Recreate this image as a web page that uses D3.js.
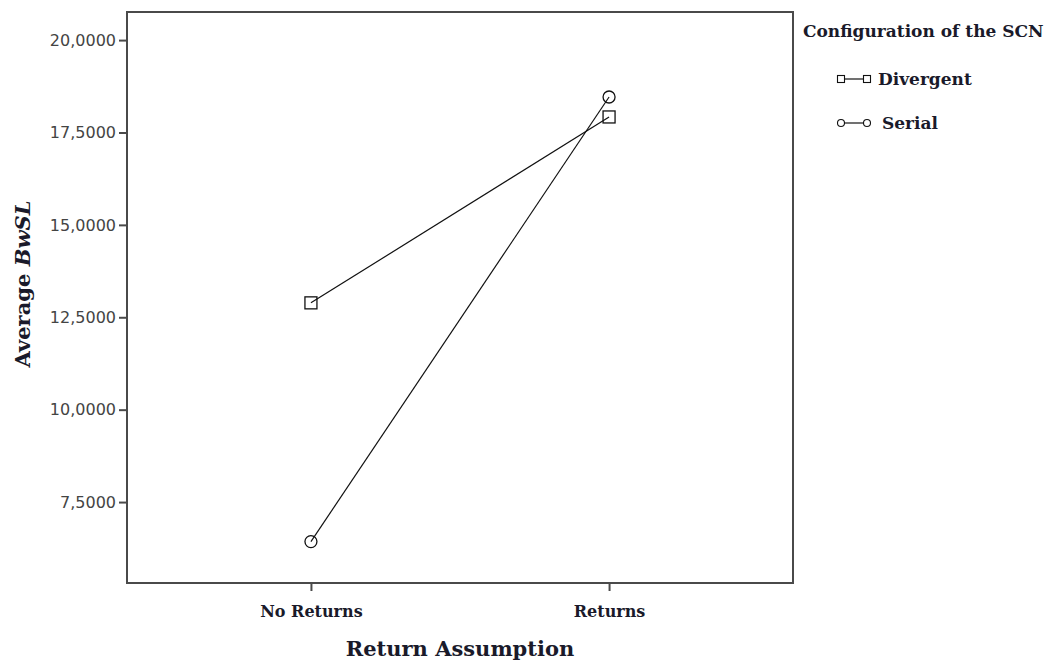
<!DOCTYPE html>
<html>
<head>
<meta charset="utf-8">
<script src="https://cdn.jsdelivr.net/npm/d3@7"></script>
<style>
  html, body { margin: 0; padding: 0; background: #fff; }
  svg { display: block; }
</style>
</head>
<body>
<svg id="chart" width="1048" height="661"></svg>
<script>
// Average BwSL by return assumption, one line per SCN configuration
const categories = ["No Returns", "Returns"];
const divergent = [12.89, 17.92];
const serial = [6.43, 18.46];
const yTicks = [7.5, 10, 12.5, 15, 17.5, 20];
const seriesNames = ["Divergent", "Serial"];

const svg = d3.select("#chart");
const margin = { left: 127, right: 255, top: 12, bottom: 78 };
const W = 1048, H = 661;
const x0 = margin.left, x1 = W - margin.right, y0 = margin.top, y1 = H - margin.bottom;

const x = d3.scalePoint().domain(categories).range([x0, x1]).padding(0.617);
const y = d3.scaleLinear().domain([5.31, 20.76]).range([y1, y0]);

const serif = "'DejaVu Serif', 'Liberation Serif', serif";
const sans = "'DejaVu Sans', 'Liberation Sans', sans-serif";
const textCol = "#1a1a2a";

// plot frame
svg.append("rect")
  .attr("x", x0).attr("y", y0)
  .attr("width", x1 - x0).attr("height", y1 - y0)
  .attr("fill", "none").attr("stroke", "#4a4a4a").attr("stroke-width", 2);

// y axis
const fmt = d => d.toFixed(4).replace(".", ",");
const yAxis = svg.append("g").attr("transform", `translate(${x0},0)`)
  .call(d3.axisLeft(y).tickValues(yTicks).tickFormat(fmt).tickSize(8).tickPadding(3));
yAxis.select(".domain").remove();
yAxis.selectAll(".tick line").attr("stroke", "#4a4a4a").attr("stroke-width", 2);
yAxis.selectAll(".tick text")
  .attr("fill", "#444").style("font-family", sans).style("font-size", "16px");

// x axis
const xAxis = svg.append("g").attr("transform", `translate(0,${y1})`)
  .call(d3.axisBottom(x).tickSize(8).tickPadding(15));
xAxis.select(".domain").remove();
xAxis.selectAll(".tick line").attr("stroke", "#4a4a4a").attr("stroke-width", 2);
xAxis.selectAll(".tick text")
  .attr("fill", textCol).style("font-family", serif).style("font-size", "16px").style("font-weight", "bold");

// axis titles
svg.append("text")
  .attr("x", 460).attr("y", 656)
  .attr("text-anchor", "middle")
  .attr("fill", textCol)
  .style("font-family", serif).style("font-size", "21px").style("font-weight", "bold")
  .text("Return Assumption");

const yt = svg.append("text")
  .attr("transform", `translate(30,284) rotate(-90)`)
  .attr("text-anchor", "middle")
  .attr("fill", textCol)
  .style("font-family", serif).style("font-size", "21px").style("font-weight", "bold");
yt.append("tspan").text("Average ");
yt.append("tspan").style("font-style", "italic").text("BwSL");

// lines
const line = d3.line().x((d, i) => x(categories[i])).y(d => y(d));
[divergent, serial].forEach(vals => {
  svg.append("path").datum(vals)
    .attr("d", line).attr("fill", "none").attr("stroke", "#111").attr("stroke-width", 1.2);
});

// markers
svg.append("g").selectAll("rect").data(divergent).join("rect")
  .attr("x", (d, i) => x(categories[i]) - 6).attr("y", d => y(d) - 6)
  .attr("width", 12).attr("height", 12)
  .attr("fill", "none").attr("stroke", "#111").attr("stroke-width", 1.3);
svg.append("g").selectAll("circle").data(serial).join("circle")
  .attr("cx", (d, i) => x(categories[i])).attr("cy", d => y(d)).attr("r", 6)
  .attr("fill", "none").attr("stroke", "#111").attr("stroke-width", 1.3);

// legend
const lg = svg.append("g");
lg.append("text").attr("x", 803).attr("y", 37)
  .attr("fill", textCol)
  .style("font-family", serif).style("font-size", "17px").style("font-weight", "bold")
  .text("Configuration of the SCN");

const items = [{ name: seriesNames[0], y: 79, shape: "square", tx: 878 },
               { name: seriesNames[1], y: 123, shape: "circle", tx: 882 }];
items.forEach(it => {
  lg.append("line").attr("x1", 841).attr("x2", 867).attr("y1", it.y).attr("y2", it.y)
    .attr("stroke", "#111").attr("stroke-width", 1.2);
  [841, 867].forEach(cx => {
    if (it.shape === "square") {
      lg.append("rect").attr("x", cx - 3.5).attr("y", it.y - 3.5).attr("width", 7).attr("height", 7)
        .attr("fill", "#fff").attr("stroke", "#111").attr("stroke-width", 1.1);
    } else {
      lg.append("circle").attr("cx", cx).attr("cy", it.y).attr("r", 3.5)
        .attr("fill", "#fff").attr("stroke", "#111").attr("stroke-width", 1.1);
    }
  });
  lg.append("text").attr("x", it.tx).attr("y", it.y + 6)
    .attr("fill", textCol)
    .style("font-family", serif).style("font-size", "17px").style("font-weight", "bold")
    .text(it.name);
});
</script>
</body>
</html>
